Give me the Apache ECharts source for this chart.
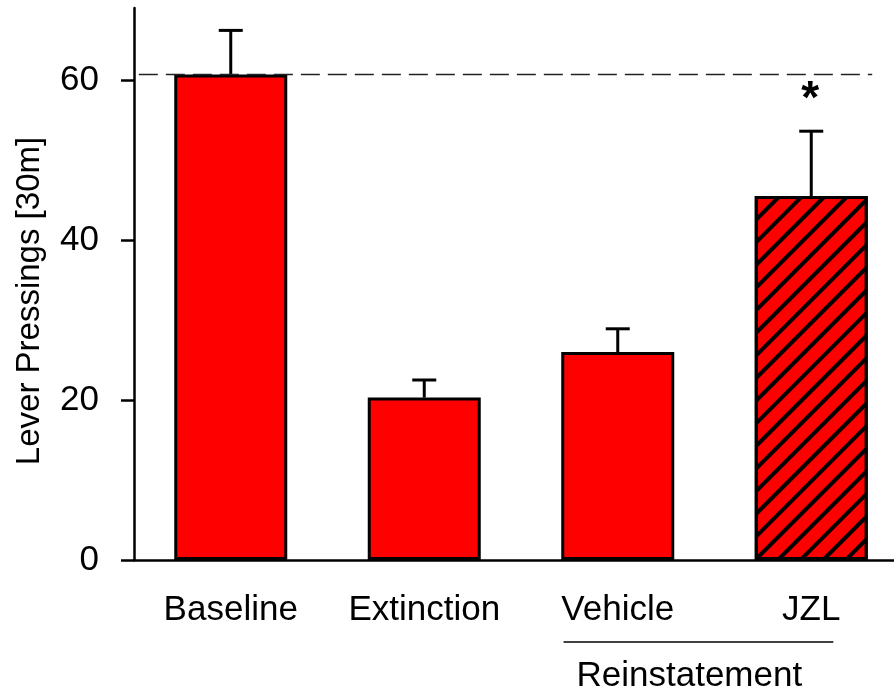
<!DOCTYPE html>
<html><head><meta charset="utf-8">
<script src="https://cdn.jsdelivr.net/npm/echarts@6/dist/echarts.min.js"></script>
<style>html,body{margin:0;padding:0;background:#fff}#c{width:894px;height:695px}</style>
</head><body><div id="c"></div>
<script>
const categories = ['Baseline', 'Extinction', 'Vehicle', 'JZL'];
const means = [60.7, 20.3, 26.0, 45.5];
const errors = [5.5, 2.2, 2.9, 8.1];
const significance = ['', '', '', '*'];
const hatched = [false, false, false, true];
const yTicks = [0, 20, 40, 60];
const yAxisTitle = 'Lever Pressings [30m]';
const groupLabel = 'Reinstatement';
const groupFirst = 'Vehicle';
const groupLast = 'JZL';

const FONT = '"Liberation Sans", Arial, sans-serif';
const chart = echarts.init(document.getElementById('c'), null, {renderer: 'canvas'});

const hatchDecal = {
  symbol: 'rect', symbolSize: 1, color: '#000',
  dashArrayX: [1, 0], dashArrayY: [4, 12], rotation: -Math.PI / 4
};

function renderErr(params, api) {
  const i = api.value(0), m = api.value(1), e = api.value(2);
  const base = api.coord([i, m]);
  const top = api.coord([i, m + e]);
  const half = 12;
  const children = [
    {type: 'line', shape: {x1: base[0], y1: base[1], x2: top[0], y2: top[1]}, style: {stroke: '#000', lineWidth: 3}},
    {type: 'line', shape: {x1: top[0] - half, y1: top[1], x2: top[0] + half, y2: top[1]}, style: {stroke: '#000', lineWidth: 3}}
  ];
  const sig = significance[params.dataIndex];
  if (sig) {
    children.push({type: 'text', x: top[0] - 1, y: top[1] - 31,
      style: {text: sig, font: 'bold 46px ' + FONT, fill: '#000', align: 'center', verticalAlign: 'middle'}});
  }
  return {type: 'group', children};
}

function renderRef(params, api) {
  const y = api.coord([0, api.value(1)])[1];
  const bw = api.size([1, 0])[0];
  const x1 = api.coord([0, 0])[0] - 0.475 * bw;
  const x2 = api.coord([categories.length - 1, 0])[0] + 0.315 * bw;
  return {type: 'line', shape: {x1, y1: y, x2, y2: y},
    style: {stroke: '#222', lineWidth: 1.5, lineDash: [19, 8]}};
}

const option = {
  animation: false,
  backgroundColor: '#fff',
  grid: {left: 134, top: 8, width: 774, height: 552, containLabel: false, outerBoundsMode: 'none'},
  xAxis: {
    type: 'category', data: categories, boundaryGap: true,
    axisLine: {lineStyle: {color: '#000', width: 2.5}},
    axisTick: {alignWithLabel: true, length: 12, lineStyle: {color: '#000', width: 2.5}},
    axisLabel: {color: '#000', fontSize: 35, fontFamily: FONT, margin: 33, interval: 0},
    splitLine: {show: false}
  },
  yAxis: {
    type: 'value', min: 0, max: 69, interval: 20,
    name: yAxisTitle, nameLocation: 'middle', nameGap: 88, nameRotate: 90,
    nameTextStyle: {color: '#000', fontSize: 33, fontFamily: FONT, padding: [0, 34, 0, 0]},
    axisLine: {show: true, lineStyle: {color: '#000', width: 2.5}},
    axisTick: {show: true, length: 13, customValues: yTicks, lineStyle: {color: '#000', width: 2.5}},
    axisLabel: {customValues: yTicks, color: '#000', fontSize: 35, fontFamily: FONT, margin: 35},
    splitLine: {show: false}
  },
  series: [
    {
      type: 'bar', barWidth: 113, z: 2,
      itemStyle: {color: '#ff0000', borderColor: '#000', borderWidth: 3},
      data: means.map((v, i) => hatched[i] ? {value: v, itemStyle: {decal: hatchDecal}} : v)
    },
    {
      type: 'custom', renderItem: renderErr, z: 3,
      encode: {x: 0, y: 1},
      data: means.map((m, i) => [i, m, errors[i]])
    },
    {
      type: 'custom', renderItem: renderRef, z: 4, clip: false,
      encode: {x: 0, y: 1},
      data: [[0, means[0]]]
    }
  ]
};
chart.setOption(option);

const xA = chart.convertToPixel({xAxisIndex: 0}, groupFirst);
const xB = chart.convertToPixel({xAxisIndex: 0}, groupLast);
const y0 = chart.convertToPixel({yAxisIndex: 0}, 0);
const bwPx = (xB - xA) / (categories.indexOf(groupLast) - categories.indexOf(groupFirst));
chart.setOption({
  graphic: [
    {type: 'line', shape: {x1: xA - 0.28 * bwPx, y1: y0 + 82, x2: xB + 0.114 * bwPx, y2: y0 + 82},
      style: {stroke: '#000', lineWidth: 1.5}},
    {type: 'text', x: xA + 0.37 * bwPx, y: y0 + 116,
      style: {text: groupLabel, font: '35px ' + FONT, fill: '#000', align: 'center', verticalAlign: 'middle'}}
  ]
});
</script>
</body></html>
